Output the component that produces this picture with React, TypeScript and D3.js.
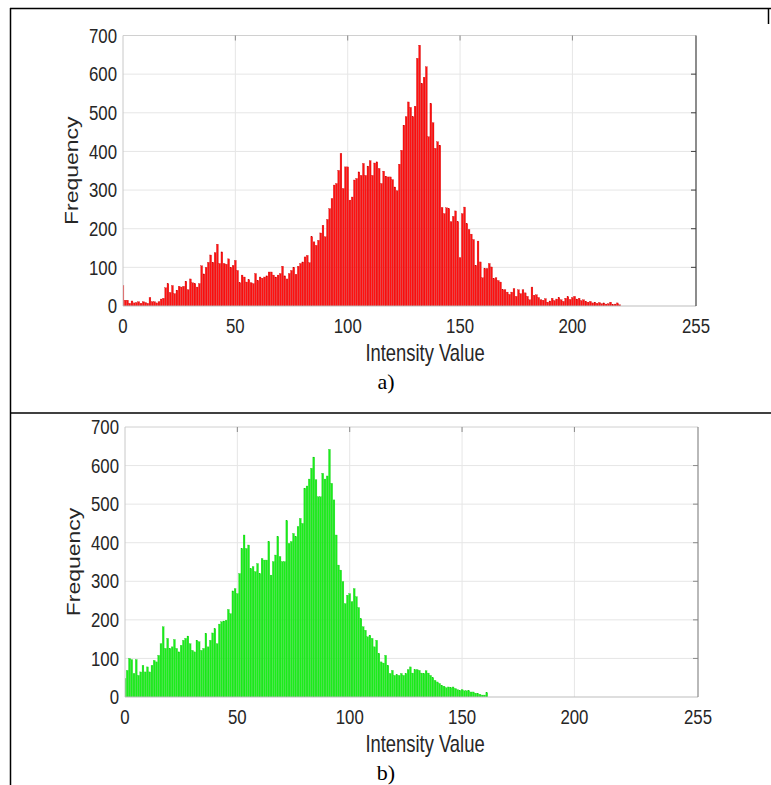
import React from "react";
import * as d3 from "d3";

// Intensity histograms (counts per grey level 0..255)
const redCounts: number[] = [
  53, 15, 15, 7, 13, 8, 9, 11, 7, 11, 9, 7, 22, 11, 11, 8, 11, 18, 20, 47,
  58, 35, 53, 32, 41, 51, 49, 51, 64, 42, 70, 60, 58, 49, 58, 104, 83, 100, 113, 132,
  113, 138, 160, 110, 140, 110, 108, 122, 100, 105, 118, 92, 60, 80, 75, 62, 68, 60, 58, 84,
  66, 75, 72, 75, 78, 88, 88, 80, 75, 80, 84, 103, 78, 70, 84, 92, 100, 82, 103, 110,
  114, 127, 131, 112, 179, 166, 157, 170, 189, 209, 179, 224, 252, 278, 313, 317, 351, 395, 304, 360,
  360, 274, 282, 326, 330, 347, 338, 369, 338, 362, 376, 338, 370, 373, 356, 317, 349, 336, 334, 334,
  327, 308, 298, 367, 403, 468, 490, 528, 514, 490, 517, 641, 675, 576, 592, 619, 438, 524, 474, 408,
  425, 416, 255, 239, 254, 252, 218, 232, 246, 218, 125, 239, 256, 213, 198, 186, 172, 105, 168, 114,
  73, 97, 97, 110, 101, 71, 73, 66, 62, 42, 42, 36, 30, 36, 45, 25, 42, 32, 42, 34,
  25, 16, 49, 28, 29, 22, 16, 15, 19, 10, 13, 20, 14, 18, 22, 16, 12, 20, 24, 17,
  22, 25, 18, 20, 14, 16, 12, 10, 12, 8, 10, 7, 9, 6, 8, 5, 6, 10, 4, 5,
  8, 3, 0, 0, 0, 0, 0, 0, 0, 0, 0, 0, 0, 0, 0, 0, 0, 0, 0, 0,
  0, 0, 0, 0, 0, 0, 0, 0, 0, 0, 0, 0, 0, 0, 0, 0,
];

const greenCounts: number[] = [
  48, 69, 100, 97, 61, 97, 56, 65, 82, 65, 78, 65, 82, 95, 91, 108, 138, 182, 126, 152,
  126, 130, 149, 126, 117, 134, 147, 152, 158, 138, 121, 117, 147, 143, 121, 126, 165, 130, 147, 166,
  177, 138, 189, 195, 197, 199, 227, 216, 275, 281, 268, 320, 385, 420, 385, 394, 333, 338, 325, 346,
  320, 359, 355, 355, 403, 316, 351, 368, 416, 364, 351, 351, 457, 398, 403, 424, 416, 442, 463, 450,
  541, 547, 565, 593, 622, 563, 519, 519, 580, 565, 573, 642, 554, 511, 420, 342, 329, 299, 242, 264,
  268, 247, 281, 260, 232, 203, 182, 173, 156, 160, 152, 130, 147, 113, 91, 88, 108, 82, 61, 69,
  56, 58, 56, 61, 56, 61, 71, 78, 62, 71, 71, 69, 62, 61, 68, 62, 56, 50, 43, 39,
  35, 30, 28, 24, 26, 24, 26, 22, 19, 17, 19, 16, 16, 16, 13, 13, 10, 9, 7, 5,
  5, 11, 0, 0, 0, 0, 0, 0, 0, 0, 0, 0, 0, 0, 0, 0, 0, 0, 0, 0,
  0, 0, 0, 0, 0, 0, 0, 0, 0, 0, 0, 0, 0, 0, 0, 0, 0, 0, 0, 0,
  0, 0, 0, 0, 0, 0, 0, 0, 0, 0, 0, 0, 0, 0, 0, 0, 0, 0, 0, 0,
  0, 0, 0, 0, 0, 0, 0, 0, 0, 0, 0, 0, 0, 0, 0, 0, 0, 0, 0, 0,
  0, 0, 0, 0, 0, 0, 0, 0, 0, 0, 0, 0, 0, 0, 0, 0,
];

const xTicks: number[] = [0, 50, 100, 150, 200, 255];
const yTicks: number[] = [0, 100, 200, 300, 400, 500, 600, 700];
const xLabel = "Intensity Value";
const yLabel = "Frequency";

const W = 771;
const H = 785;
const FONT = "'Liberation Sans', Arial, Helvetica, sans-serif";
// the figure's sans-serif text is set slightly condensed
const SX = 0.8;

type PanelProps = {
  id: string;
  counts: number[];
  color: string;
  edge: string;
  left: number;
  right: number;
  top: number;
  bottom: number;
  caption: string;
  captionY: number;
  rightAxisColor: string;
};

function Panel(p: PanelProps) {
  const x = d3.scaleLinear().domain([0, 255]).range([p.left, p.right]);
  const y = d3.scaleLinear().domain([0, 700]).range([p.bottom, p.top]);
  const bw = x(0.8) - x(0);
  const gridX = [50, 100, 150, 200];
  const gridY = [100, 200, 300, 400, 500, 600];
  const clipId = `clip-${p.id}`;
  const tickLen = 5;
  return (
    <g>
      <defs>
        <clipPath id={clipId}>
          <rect x={p.left} y={p.top} width={p.right - p.left} height={p.bottom - p.top} />
        </clipPath>
      </defs>
      <rect x={p.left} y={p.top} width={p.right - p.left} height={p.bottom - p.top} fill="#fff" />
      {gridX.map((v) => (
        <line key={`gx${v}`} x1={x(v)} x2={x(v)} y1={p.top} y2={p.bottom} stroke="#e6e6e6" strokeWidth={1} />
      ))}
      {gridY.map((v) => (
        <line key={`gy${v}`} x1={p.left} x2={p.right} y1={y(v)} y2={y(v)} stroke="#e6e6e6" strokeWidth={1} />
      ))}
      <g clipPath={`url(#${clipId})`}>
        {p.counts.map((c, i) =>
          c > 0 ? (
            <rect
              key={i}
              x={x(i) - bw / 2}
              y={y(c)}
              width={bw}
              height={y(0) - y(c)}
              fill={p.color}
              stroke={p.edge}
              strokeWidth={0.3}
            />
          ) : null
        )}
      </g>
      {/* axes box */}
      <line x1={p.left} x2={p.right} y1={p.top} y2={p.top} stroke="#d0d0d0" strokeWidth={1} />
      <line x1={p.left} x2={p.left} y1={p.top} y2={p.bottom} stroke="#c8c8c8" strokeWidth={1} />
      <line x1={p.left} x2={p.right} y1={p.bottom} y2={p.bottom} stroke="#bdbdbd" strokeWidth={1} />
      <line x1={p.right} x2={p.right} y1={p.top} y2={p.bottom} stroke={p.rightAxisColor} strokeWidth={1.2} />
      {/* inward ticks on top and right */}
      {gridX.map((v) => (
        <line key={`tt${v}`} x1={x(v)} x2={x(v)} y1={p.top} y2={p.top + tickLen} stroke="#8a8a8a" strokeWidth={1} />
      ))}
      {gridY.map((v) => (
        <line key={`tr${v}`} x1={p.right - tickLen} x2={p.right} y1={y(v)} y2={y(v)} stroke={p.rightAxisColor} strokeWidth={1} />
      ))}
      {/* tick labels */}
      {yTicks.map((v) => (
        <text
          key={`yl${v}`}
          transform={`translate(${p.left - 6},${y(v)}) scale(${SX},1)`}
          textAnchor="end"
          dominantBaseline="central"
          fontFamily={FONT}
          fontSize={21}
          fill="#262626"
        >
          {v}
        </text>
      ))}
      {xTicks.map((v) => (
        <text
          key={`xl${v}`}
          transform={`translate(${x(v)},${p.bottom + 20}) scale(${SX},1)`}
          textAnchor="middle"
          dominantBaseline="central"
          fontFamily={FONT}
          fontSize={21}
          fill="#262626"
        >
          {v}
        </text>
      ))}
      <text
        transform={`translate(${425},${p.bottom + 47}) scale(${SX},1)`}
        textAnchor="middle"
        dominantBaseline="central"
        fontFamily={FONT}
        fontSize={23}
        fill="#262626"
      >
        {xLabel}
      </text>
      <text
        transform={`translate(${p.left - 52},${(p.top + p.bottom) / 2}) scale(${SX},1) rotate(-90)`}
        textAnchor="middle"
        dominantBaseline="central"
        fontFamily={FONT}
        fontSize={23}
        fill="#262626"
      >
        {yLabel}
      </text>
      <text
        x={386}
        y={p.captionY}
        textAnchor="middle"
        dominantBaseline="central"
        fontFamily="'Liberation Serif', 'Times New Roman', serif"
        fontSize={22}
        fill="#000"
      >
        {p.caption}
      </text>
    </g>
  );
}

export default function App() {
  return (
    <svg width={W} height={H} style={{ position: "absolute", left: 0, top: 0, background: "#fff" }}>
      {/* table frame */}
      <line x1={10} x2={771} y1={8.5} y2={8.5} stroke="#000" strokeWidth={1.5} />
      <line x1={10.5} x2={10.5} y1={8} y2={785} stroke="#000" strokeWidth={1.5} />
      <line x1={768.5} x2={768.5} y1={8} y2={24} stroke="#000" strokeWidth={1.5} />
      <line x1={10} x2={771} y1={413} y2={413} stroke="#000" strokeWidth={1.5} />
      <Panel
        id="a"
        counts={redCounts}
        color="#ff1010"
        edge="#c80000"
        left={123}
        right={696}
        top={35.5}
        bottom={306}
        caption="a)"
        captionY={381}
        rightAxisColor="#404040"
      />
      <Panel
        id="b"
        counts={greenCounts}
        color="#1aee1a"
        edge="#10c810"
        left={125}
        right={698}
        top={427}
        bottom={697}
        caption="b)"
        captionY={772}
        rightAxisColor="#8a8a8a"
      />
    </svg>
  );
}
